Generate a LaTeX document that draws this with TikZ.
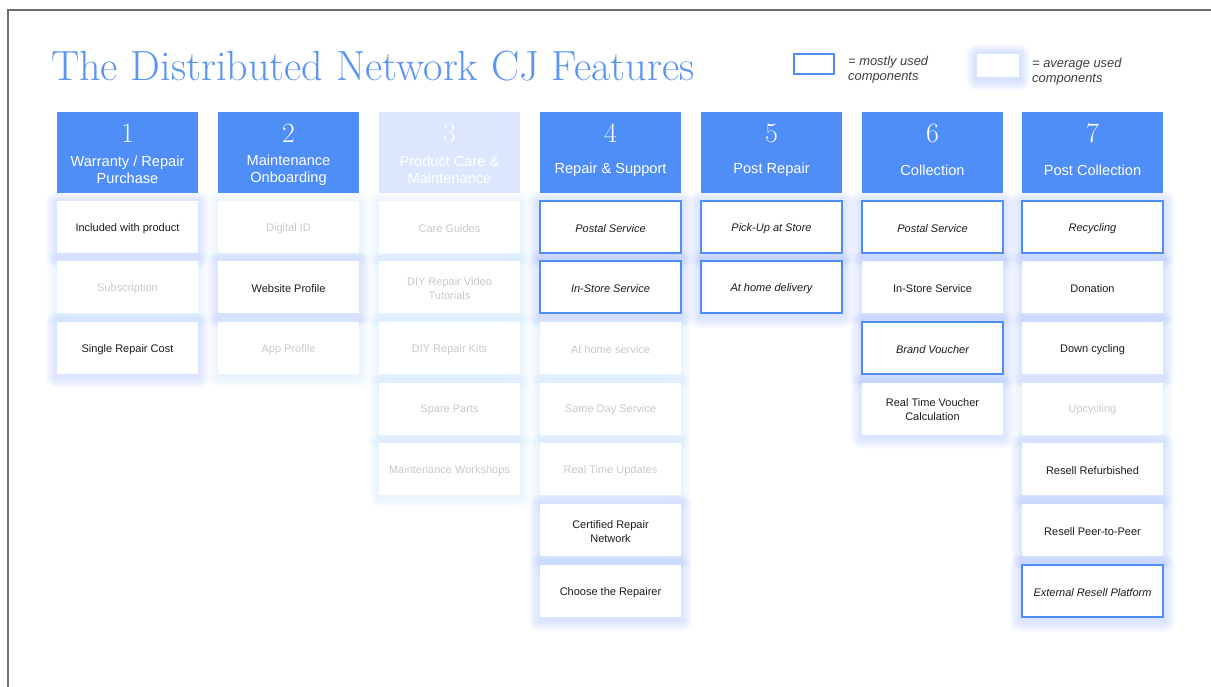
\documentclass[tikz,border=0pt]{standalone}
\usepackage{fontspec}
\newfontfamily\cardfont{Liberation Sans}
\pgfdeclarelayer{background}
\pgfdeclarelayer{paper}
\pgfsetlayers{paper,background,main}
\definecolor{hdrblue}{HTML}{4F8EF7}
\definecolor{titleblue}{HTML}{5B95F2}
\definecolor{fadehdr}{HTML}{DCE6FC}
\definecolor{fadetext}{HTML}{C9C9CC}
\definecolor{cardtext}{HTML}{1C1C1C}
\definecolor{glowc}{HTML}{86ABFF}
\definecolor{framegray}{HTML}{6E6E6E}
\tikzset{
  header/.style={fill=hdrblue, draw=none, minimum width=141pt, minimum height=81pt, inner sep=0pt, anchor=center},
  fadeheader/.style={header, fill=fadehdr},
  numtext/.style={text=white, font=\fontsize{28}{28}\selectfont, inner sep=0pt},
  hdrtext/.style={text=white, font=\cardfont\fontsize{14.6}{17}\selectfont, align=center, inner sep=0pt},
  cardbase/.style={fill=white, minimum width=141pt, minimum height=52pt, inner sep=0pt},
  avgcard/.style={cardbase, draw=none},
  mostcard/.style={cardbase, draw=hdrblue, line width=2.2pt},
  fadecard/.style={cardbase, draw=none},
  cardtxt/.style={inner sep=0pt, align=center, font=\cardfont\fontsize{11}{14}\selectfont},
  avgcardtext/.style={cardtxt, text=cardtext},
  mostcardtext/.style={cardtxt, text=cardtext, font=\cardfont\itshape\fontsize{11}{14}\selectfont},
  fadecardtext/.style={cardtxt, text=fadetext},
  legtext/.style={font=\cardfont\itshape\fontsize{12.9}{15}\selectfont, text=cardtext!85, align=left, anchor=west, inner sep=0pt},
}
% glow behind a named node: #1 node name, #2 opacity per layer
\newcommand\glowof[2]{%
  \begin{pgfonlayer}{background}
  \foreach \r in {1,...,11}{%
    \fill[glowc, opacity=#2, rounded corners=\r pt]
      ([xshift=-\r pt, yshift=\r pt-1.5pt]#1.north west) rectangle
      ([xshift=\r pt, yshift=-\r pt-3pt]#1.south east);
  }
  \end{pgfonlayer}}
\newcommand\colhead[5]{% name, x, number, label, style
  \node[#5] (#1) at (#2,152.5) {};
  \node[numtext] (#1num) at (#2,133) {#3};
  \node[hdrtext] (#1lab) at (#2,170) {#4};
}
\newcommand\card[5]{% name, x, y, kind, text
  \node[#4card] (#1) at (#2,#3) {};
  \node[#4cardtext] (#1t) at ([yshift=-1.5pt]#1.center) {#5};
}
\begin{document}
\begin{tikzpicture}[x=1pt,y=-1pt]
\useasboundingbox (0,0) rectangle (1211,686);
\begin{pgfonlayer}{paper}
\fill[white] (0,0) rectangle (1211,686);
\end{pgfonlayer}
% frame
\draw[framegray, line width=2pt] (8,687) -- (8,10) -- (1212,10);
% title
\node[anchor=base west, inner sep=0pt, text=titleblue, font=\fontsize{42.2}{42}\selectfont] (title) at (51,80) {The Distributed Network CJ Features};
% legend
\node[draw=hdrblue, line width=2.2pt, fill=white, minimum width=40pt, minimum height=20pt, inner sep=0pt] (legmost) at (814,64) {};
\node[legtext] (legmosttext) at (848,70) {= mostly used\\components};
\node[fill=white, minimum width=42pt, minimum height=23pt, inner sep=0pt] (legavg) at (998,65) {};
\glowof{legavg}{0.03}
\node[legtext] (legavgtext) at (1032,72) {= average used\\components};
% headers
\colhead{h1}{127.5}{1}{Warranty / Repair\\Purchase}{header}
\colhead{h2}{288.5}{2}{Maintenance\\Onboarding}{header}
\colhead{h3}{449.5}{3}{Product Care \&\\Maintenance}{fadeheader}
\colhead{h4}{610.5}{4}{Repair \& Support}{header}
\colhead{h5}{771.5}{5}{Post Repair}{header}
\colhead{h6}{932.5}{6}{Collection}{header}
\colhead{h7}{1092.5}{7}{Post Collection}{header}
% column 1
\card{c1a}{127.5}{227}{avg}{Included with product}
\card{c1b}{127.5}{287}{fade}{Subscription}
\card{c1c}{127.5}{348}{avg}{Single Repair Cost}
% column 2
\card{c2a}{288.5}{227}{fade}{Digital ID}
\card{c2b}{288.5}{287}{avg}{Website Profile}
\card{c2c}{288.5}{348}{fade}{App Profile}
% column 3
\card{c3a}{449.5}{227}{fade}{Care Guides}
\card{c3b}{449.5}{287}{fade}{DIY Repair Video\\Tutorials}
\card{c3c}{449.5}{348}{fade}{DIY Repair Kits}
\card{c3d}{449.5}{408.5}{fade}{Spare Parts}
\card{c3e}{449.5}{469}{fade}{Maintenance Workshops}
% column 4
\card{c4a}{610.5}{227}{most}{Postal Service}
\card{c4b}{610.5}{287}{most}{In-Store Service}
\card{c4c}{610.5}{348}{fade}{At home service}
\card{c4d}{610.5}{408.5}{fade}{Same Day Service}
\card{c4e}{610.5}{469}{fade}{Real Time Updates}
\card{c4f}{610.5}{530}{avg}{Certified Repair\\Network}
\card{c4g}{610.5}{591}{avg}{Choose the Repairer}
% column 5
\card{c5a}{771.5}{227}{most}{Pick-Up at Store}
\card{c5b}{771.5}{287}{most}{At home delivery}
% column 6
\card{c6a}{932.5}{227}{most}{Postal Service}
\card{c6b}{932.5}{287}{avg}{In-Store Service}
\card{c6c}{932.5}{348}{most}{Brand Voucher}
\card{c6d}{932.5}{408.5}{avg}{Real Time Voucher\\Calculation}
% column 7
\card{c7a}{1092.5}{227}{most}{Recycling}
\card{c7b}{1092.5}{287}{avg}{Donation}
\card{c7c}{1092.5}{348}{avg}{Down cycling}
\card{c7d}{1092.5}{408.5}{fade}{Upcycling}
\card{c7e}{1092.5}{469}{avg}{Resell Refurbished}
\card{c7f}{1092.5}{530}{avg}{Resell Peer-to-Peer}
\card{c7g}{1092.5}{591}{most}{External Resell Platform}
% glows
\foreach \n in {c1a,c1c,c2b,c4a,c4b,c4f,c4g,c5a,c5b,c6a,c6b,c6c,c6d,c7a,c7b,c7c,c7e,c7f,c7g}{\glowof{\n}{0.028}}
\foreach \n in {c1b,c2a,c2c,c3a,c3b,c3c,c3d,c3e,c4c,c4d,c4e,c7d}{\glowof{\n}{0.011}}
\end{tikzpicture}
\end{document}
